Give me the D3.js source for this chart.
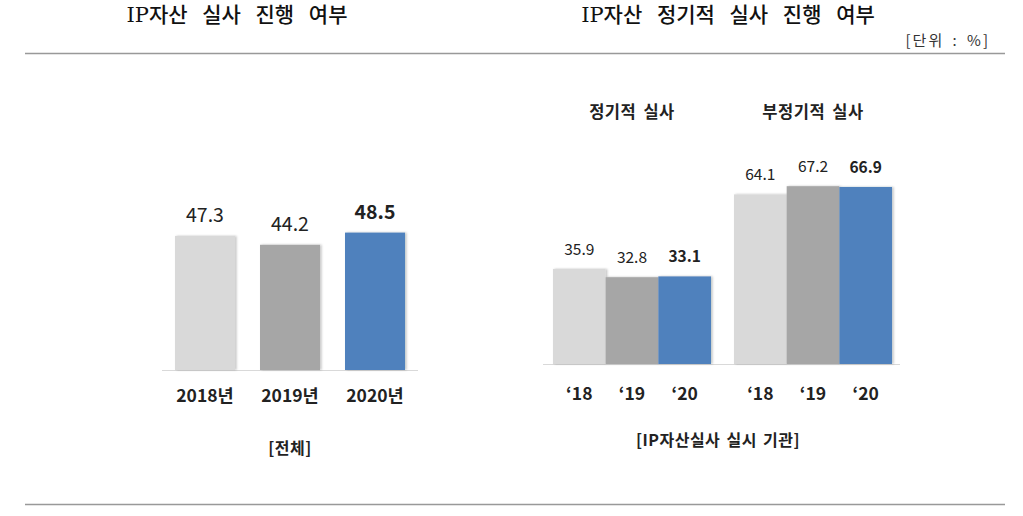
<!DOCTYPE html>
<html><head><meta charset="utf-8">
<script src="https://cdn.jsdelivr.net/npm/d3@7/dist/d3.min.js"></script>
<style>body{margin:0;background:#fff}svg{display:block}</style>
</head><body><svg id="c" width="1023" height="516"></svg>
<script>
const leftCats = ["2018년","2019년","2020년"];
const leftVals = [47.3, 44.2, 48.5];
const groups = ["정기적 실사","부정기적 실사"];
const years = ["‘18","‘19","‘20"];
const regularVals = [35.9, 32.8, 33.1];
const irregularVals = [64.1, 67.2, 66.9];
const colors = ["#d9d9d9","#a6a6a6","#4f81bd"];

const svg = d3.select("#c");
const F = "'Noto Sans CJK KR','Noto Sans',sans-serif";
const TF = "'DejaVu Serif','Noto Sans CJK KR',serif";
const defs = svg.append("defs");
const flt = defs.append("filter").attr("id","sh").attr("x","-10%").attr("y","-10%").attr("width","130%").attr("height","120%");
flt.append("feDropShadow").attr("dx",1.5).attr("dy",0).attr("stdDeviation",0.8).attr("flood-color","#000").attr("flood-opacity",0.25);

// rules
svg.append("line").attr("x1",25).attr("x2",1005).attr("y1",53.5).attr("y2",53.5).attr("stroke","#999").attr("stroke-width",1.5);
svg.append("line").attr("x1",25).attr("x2",1005).attr("y1",504.5).attr("y2",504.5).attr("stroke","#999").attr("stroke-width",1.5);

// titles
svg.append("text").attr("x",237).attr("y",22).attr("text-anchor","middle").attr("font-family",TF).attr("font-size",21).attr("font-weight",500).attr("word-spacing",8).attr("fill","#111").text("IP자산 실사 진행 여부");
svg.append("text").attr("x",728).attr("y",22).attr("text-anchor","middle").attr("font-family",TF).attr("font-size",21).attr("font-weight",500).attr("word-spacing",8).attr("fill","#111").text("IP자산 정기적 실사 진행 여부");
svg.append("text").attr("x",990).attr("y",46).attr("text-anchor","end").attr("font-family",F).attr("font-size",15).attr("letter-spacing",2).attr("word-spacing",3).attr("fill","#333").text("[단위 : %]");

// left chart
const xL = d3.scaleBand().domain(leftCats).range([162.5,417.5]).paddingInner(0.294).paddingOuter(0.147);
const yL = d3.scaleLinear().domain([0,100]).range([370, 370-283.3]);
svg.append("line").attr("x1",162).attr("x2",418).attr("y1",370.5).attr("y2",370.5).attr("stroke","#d9d9d9");
svg.append("g").selectAll("rect").data(leftVals).join("rect")
  .attr("x",(d,i)=>xL(leftCats[i])).attr("width",xL.bandwidth())
  .attr("y",d=>yL(d)).attr("height",d=>yL(0)-yL(d))
  .attr("fill",(d,i)=>colors[i]).attr("filter","url(#sh)");
svg.append("g").selectAll("text").data(leftVals).join("text")
  .attr("x",(d,i)=>xL(leftCats[i])+xL.bandwidth()/2).attr("y",d=>yL(d)-14)
  .attr("text-anchor","middle").attr("font-family",F).attr("font-size",19.5)
  .attr("font-weight",(d,i)=>i===2?"bold":"normal").attr("fill","#222")
  .text(d=>d.toFixed(1));
svg.append("g").selectAll("text").data(leftCats).join("text")
  .attr("x",d=>xL(d)+xL.bandwidth()/2).attr("y",402)
  .attr("text-anchor","middle").attr("font-family",F).attr("font-size",17.5).attr("font-weight","bold").attr("fill","#222")
  .text(d=>d);
svg.append("text").attr("x",290).attr("y",454).attr("text-anchor","middle").attr("font-family",F).attr("font-size",16).attr("letter-spacing",0.5).attr("font-weight","bold").attr("fill","#222").text("[전체]");

// right chart
const x0 = d3.scaleBand().domain(groups).range([543,902]).paddingInner(0.127).paddingOuter(0.055);
const x1 = d3.scaleBand().domain(years).range([0,x0.bandwidth()]).padding(0);
const yR = d3.scaleLinear().domain([0,100]).range([364, 364-264.6]);
svg.append("line").attr("x1",543).attr("x2",900).attr("y1",364.5).attr("y2",364.5).attr("stroke","#d9d9d9");
const series = [regularVals, irregularVals];
groups.forEach((g,gi)=>{
  const gg = svg.append("g").attr("transform",`translate(${x0(g)},0)`);
  gg.selectAll("rect").data(series[gi]).join("rect")
    .attr("x",(d,i)=>x1(years[i])).attr("width",x1.bandwidth())
    .attr("y",d=>yR(d)).attr("height",d=>yR(0)-yR(d))
    .attr("fill",(d,i)=>colors[i]).attr("filter","url(#sh)");
  gg.selectAll("text.v").data(series[gi]).join("text").attr("class","v")
    .attr("x",(d,i)=>x1(years[i])+x1.bandwidth()/2).attr("y",d=>yR(d)-14)
    .attr("text-anchor","middle").attr("font-family",F).attr("font-size",15.5)
    .attr("font-weight",(d,i)=>i===2?"bold":"normal").attr("fill","#222")
    .text(d=>d.toFixed(1));
  gg.selectAll("text.c").data(years).join("text").attr("class","c")
    .attr("x",d=>x1(d)+x1.bandwidth()/2).attr("y",400)
    .attr("text-anchor","middle").attr("font-family",F).attr("font-size",17.5).attr("font-weight","bold").attr("fill","#222")
    .text(d=>d);
  svg.append("text").attr("x",x0(g)+x0.bandwidth()/2).attr("y",118).attr("text-anchor","middle")
    .attr("font-family",F).attr("font-size",16.5).attr("letter-spacing",0.5).attr("word-spacing",3).attr("font-weight","bold").attr("fill","#222").text(g);
});
svg.append("text").attr("x",718).attr("y",446).attr("text-anchor","middle").attr("font-family",F).attr("font-size",16).attr("letter-spacing",0.5).attr("word-spacing",2).attr("font-weight","bold").attr("fill","#222").text("[IP자산실사 실시 기관]");
</script></body></html>
